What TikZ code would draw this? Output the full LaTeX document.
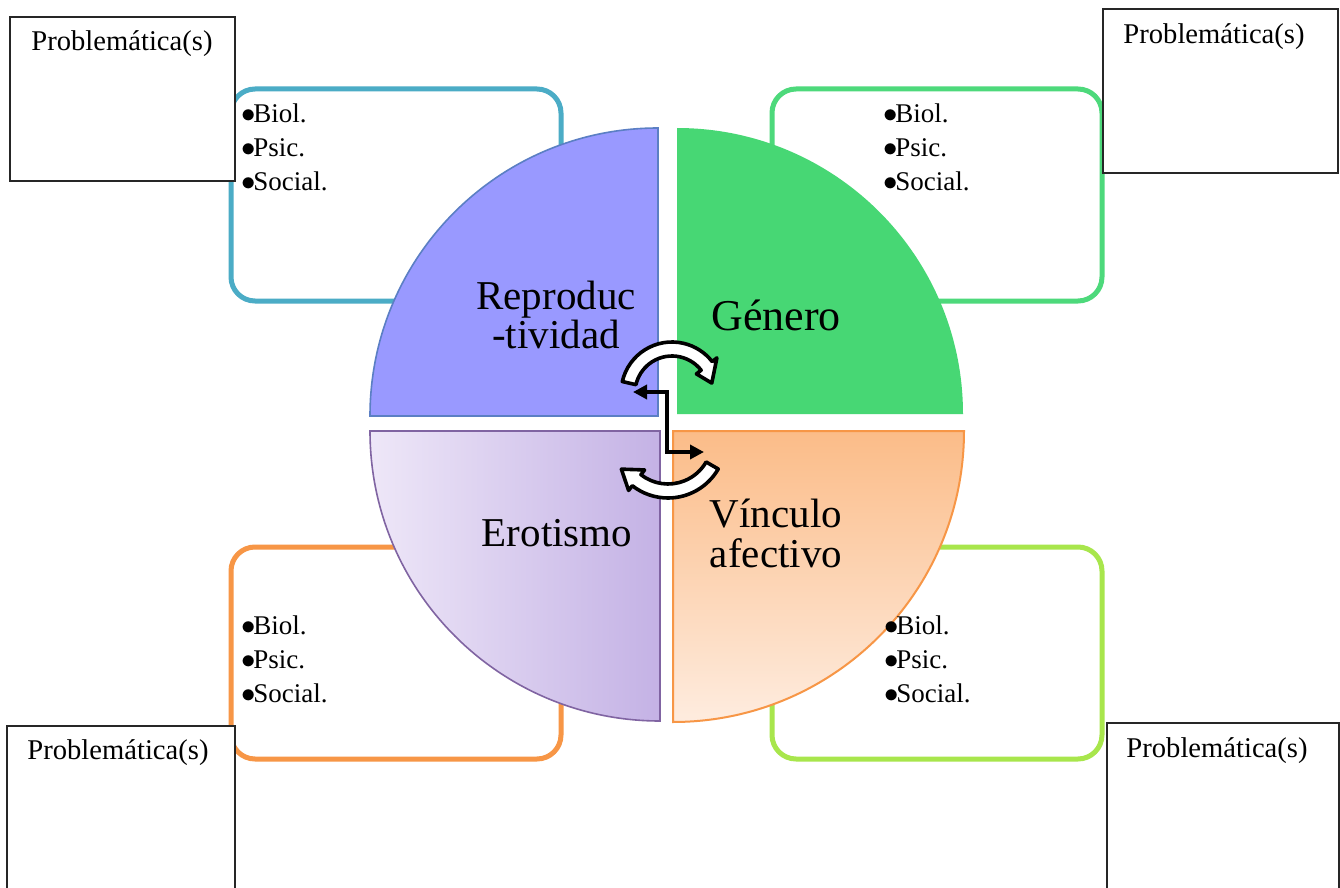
\documentclass[tikz,border=0pt]{standalone}
\usepackage{fontspec}
\setmainfont{Liberation Serif}
\usetikzlibrary{arrows.meta}
\definecolor{cTeal}{HTML}{4BACC6}
\definecolor{cGreenBox}{HTML}{4DD97B}
\definecolor{cOrBox}{HTML}{F79646}
\definecolor{cLime}{HTML}{A8E64C}
\definecolor{cQBlue}{HTML}{9999FF}
\definecolor{cQBlueLine}{HTML}{5B7FC4}
\definecolor{cQGreen}{HTML}{47D774}
\definecolor{cLavA}{HTML}{EEE7F8}
\definecolor{cLavB}{HTML}{C4B2E5}
\definecolor{cLavLine}{HTML}{8064A2}
\definecolor{cOrA}{HTML}{FBBC88}
\definecolor{cOrB}{HTML}{FEECDF}
\definecolor{cOrLine}{HTML}{F79646}
\newcommand\mybul{$\bullet$\kern-1.2pt}
\tikzset{
  frame/.style={line width=2.5pt, rounded corners=12pt},
  probbox/.style={draw=black!85, line width=0.6pt, fill=white},
  probtext/.style={font=\fontsize{14.3}{17}\selectfont, inner sep=0pt},
  bullets/.style={font=\fontsize{13.5}{17}\selectfont, align=left, inner sep=0pt, anchor=west},
  qlabel/.style={font=\fontsize{20.5}{18}\selectfont, align=center, inner sep=0pt},
  blockarrow/.style={draw=black, line width=1.8pt, fill=white, line join=round},
  elbow/.style={line width=2pt, {Triangle[length=7pt,width=7pt]}-{Triangle[length=7pt,width=7pt]}}
}
\begin{document}
\begin{tikzpicture}[x=0.5pt,y=-0.5pt]
\useasboundingbox (0,0) rectangle (1340,888);
\fill[white] (0,0) rectangle (1340,888);

% rounded frames
\draw[frame, draw=cTeal] (231,89) rectangle (561,301);
\draw[frame, draw=cGreenBox] (772,89) rectangle (1102,301);
\draw[frame, draw=cOrBox] (231,547) rectangle (561,759);
\draw[frame, draw=cLime] (772,547) rectangle (1102,759);

% problem boxes
\draw[probbox] (10,17) rectangle (235,181);
\draw[probbox] (1103,9) rectangle (1338,173);
\draw[probbox] (7,726) rectangle (235,895);
\draw[probbox] (1107,723) rectangle (1339,895);
\node[probtext] (pTL) at (122,44) {Problemática(s)};
\node[probtext] (pTR) at (1214,37) {Problemática(s)};
\node[probtext] (pBL) at (118,753) {Problemática(s)};
\node[probtext] (pBR) at (1217,751) {Problemática(s)};

% quadrants
\draw[draw=cQBlueLine, line width=0.8pt, fill=cQBlue]
  (658,416) -- ++(270:288) arc[start angle=270, end angle=180, radius=288] -- cycle;
\fill[cQGreen]
  (677,414) -- ++(270:286) arc[start angle=270, end angle=360, radius=286] -- cycle;
\path[left color=cLavA, right color=cLavB, draw=cLavLine, line width=0.8pt]
  (660,431) -- ++(90:290) arc[start angle=90, end angle=180, radius=290] -- cycle;
\path[top color=cOrA, bottom color=cOrB, draw=cOrLine, line width=1pt]
  (673,431) -- ++(0:291) arc[start angle=0, end angle=90, radius=291] -- cycle;

% curved block arrows
\begin{scope}[shift={(672,393)}]
\draw[blockarrow] (193:51) arc[start angle=193, end angle=322, radius=51]
  -- (322:57) -- (346:41) -- (322:31) -- (322:37)
  arc[start angle=322, end angle=193, radius=37] -- cycle;
\end{scope}
\begin{scope}[shift={(668,440)}]
\draw[blockarrow] (30:58) arc[start angle=30, end angle=128, radius=58]
  -- (128:64) -- (148:55) -- (128:38) -- (128:44)
  arc[start angle=128, end angle=30, radius=44] -- cycle;
\end{scope}

% elbow double arrow
\coordinate (eA) at (633,392);
\coordinate (eM) at (667,420);
\coordinate (eB) at (704,452);
\draw[elbow] (eA) -| (eM) |- (eB);

% quadrant labels
\node[qlabel] (lRep) at (556,315) {Reproduc\\-tividad};
\node[qlabel, font=\fontsize{22}{18}\selectfont] (lGen) at (776,315) {Género};
\node[qlabel] (lEro) at (557,533) {Erotismo};
\node[qlabel, font=\fontsize{20.5}{20}\selectfont] (lVin) at (776,533) {Vínculo\\afectivo};

% bullet lists
\node[bullets] (bTL) at (241,147) {\mybul Biol.\\\mybul Psic.\\\mybul Social.};
\node[bullets] (bTR) at (883,147) {\mybul Biol.\\\mybul Psic.\\\mybul Social.};
\node[bullets] (bBL) at (241,659) {\mybul Biol.\\\mybul Psic.\\\mybul Social.};
\node[bullets] (bBR) at (884,659) {\mybul Biol.\\\mybul Psic.\\\mybul Social.};
\end{tikzpicture}
\end{document}
